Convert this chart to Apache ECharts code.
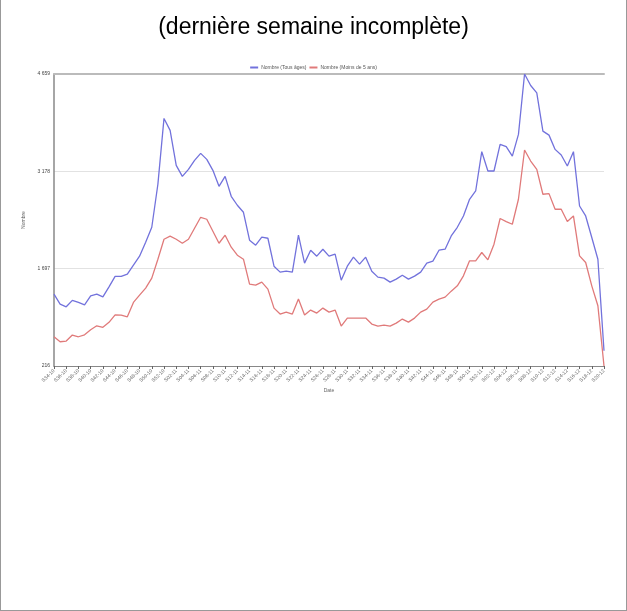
<!DOCTYPE html>
<html><head><meta charset="utf-8">
<script src="https://cdn.jsdelivr.net/npm/echarts@6/dist/echarts.min.js"></script>
<style>
html,body{margin:0;padding:0;background:#fff;}
#c{width:627px;height:611px;box-sizing:border-box;border-left:1px solid #999;border-right:1px solid #999;border-bottom:1px solid #999;}
</style></head><body>
<div id="c"></div>
<script>
const titleText = '(dernière semaine incomplète)';
const seriesNames = ['Nombre (Tous âges)', 'Nombre (Moins de 5 ans)'];
const yTicks = [216, 1697, 3178, 4659];
const weeks = [];
(function(){
  for (let w = 34; w <= 52; w++) weeks.push('S' + String(w).padStart(2,'0') + '-10');
  for (let w = 1; w <= 52; w++) weeks.push('S' + String(w).padStart(2,'0') + '-11');
  for (let w = 1; w <= 20; w++) weeks.push('S' + String(w).padStart(2,'0') + '-12');
})();
const tousAges = [1310,1158,1117,1214,1184,1147,1284,1310,1269,1421,1579,1579,1613,1750,1887,2100,2327,2981,3983,3801,3269,3102,3208,3345,3451,3360,3193,2950,3102,2798,2662,2555,2130,2054,2176,2160,1735,1644,1659,1644,2206,1781,1978,1887,1993,1887,1917,1522,1735,1872,1765,1872,1659,1568,1553,1492,1538,1598,1538,1583,1644,1781,1811,1978,1993,2195,2327,2499,2753,2879,3477,3183,3183,3588,3553,3410,3740,4659,4484,4373,3790,3729,3512,3426,3259,3477,2651,2499,2171,1841,448];
const moins5 = [661,585,596,687,661,691,767,828,804,880,995,991,965,1184,1294,1401,1553,1841,2145,2191,2145,2084,2145,2312,2479,2449,2267,2084,2206,2024,1902,1841,1462,1446,1492,1386,1097,1006,1036,1006,1234,991,1067,1021,1097,1036,1067,824,945,945,945,945,854,824,839,824,869,930,884,945,1036,1082,1188,1234,1264,1355,1436,1588,1816,1816,1943,1831,2069,2460,2414,2373,2753,3502,3335,3208,2829,2839,2601,2601,2414,2499,1891,1791,1436,1132,216];

const fmt = v => String(Math.round(v)).replace(/\B(?=(\d{3})+(?!\d))/g, ' ');
const chart = echarts.init(document.getElementById('c'));
const font = 'Liberation Sans, Arial, sans-serif';
chart.setOption({
  animation: false,
  title: { text: titleText, left: 'center', top: 11, textStyle: { fontFamily: font, fontSize: 23, fontWeight: 'normal', color: '#000' } },
  legend: { top: 60, left: 'center', itemWidth: 8, itemHeight: 2, itemGap: 3, icon: 'rect',
    textStyle: { fontFamily: font, fontSize: 5, color: '#555', padding: [0,0,0,-2] }, data: seriesNames },
  grid: { left: 53, right: 22, top: 74, bottom: 244 },
  xAxis: [{
    type: 'category', data: weeks, boundaryGap: false,
    name: 'Date', nameLocation: 'middle', nameGap: 22,
    nameTextStyle: { fontFamily: font, fontSize: 5, color: '#666' },
    axisLine: { lineStyle: { color: '#888', width: 1.2 } },
    axisTick: { interval: 1, length: 3, lineStyle: { color: '#666' } },
    axisLabel: { interval: 1, rotate: 45, fontSize: 5, color: '#666', fontFamily: font, margin: 4 },
    splitLine: { show: false }
  }, {
    type: 'category', data: weeks, boundaryGap: false, position: 'top',
    axisLine: { lineStyle: { color: '#bbb', width: 2 } },
    axisTick: { show: false }, axisLabel: { show: false }
  }],
  yAxis: {
    type: 'value', min: 216, max: 4659,
    name: 'Nombre', nameLocation: 'middle', nameGap: 20, nameRotate: 90,
    nameTextStyle: { fontFamily: font, fontSize: 5, color: '#666' },
    axisLine: { show: true, lineStyle: { color: '#888', width: 1.5 } },
    axisTick: { show: false, customValues: yTicks },
    axisLabel: { customValues: yTicks, formatter: fmt, fontSize: 5, color: '#444', fontFamily: font, margin: 4 },
    splitLine: { show: true, lineStyle: { color: '#e2e2e2', width: 1 } }
  },
  series: [
    { name: seriesNames[0], type: 'line', data: tousAges, showSymbol: false, color: '#7272dc', lineStyle: { width: 1.3 } },
    { name: seriesNames[1], type: 'line', data: moins5, showSymbol: false, color: '#e07a7a', lineStyle: { width: 1.3 } }
  ]
});
</script>
</body></html>
